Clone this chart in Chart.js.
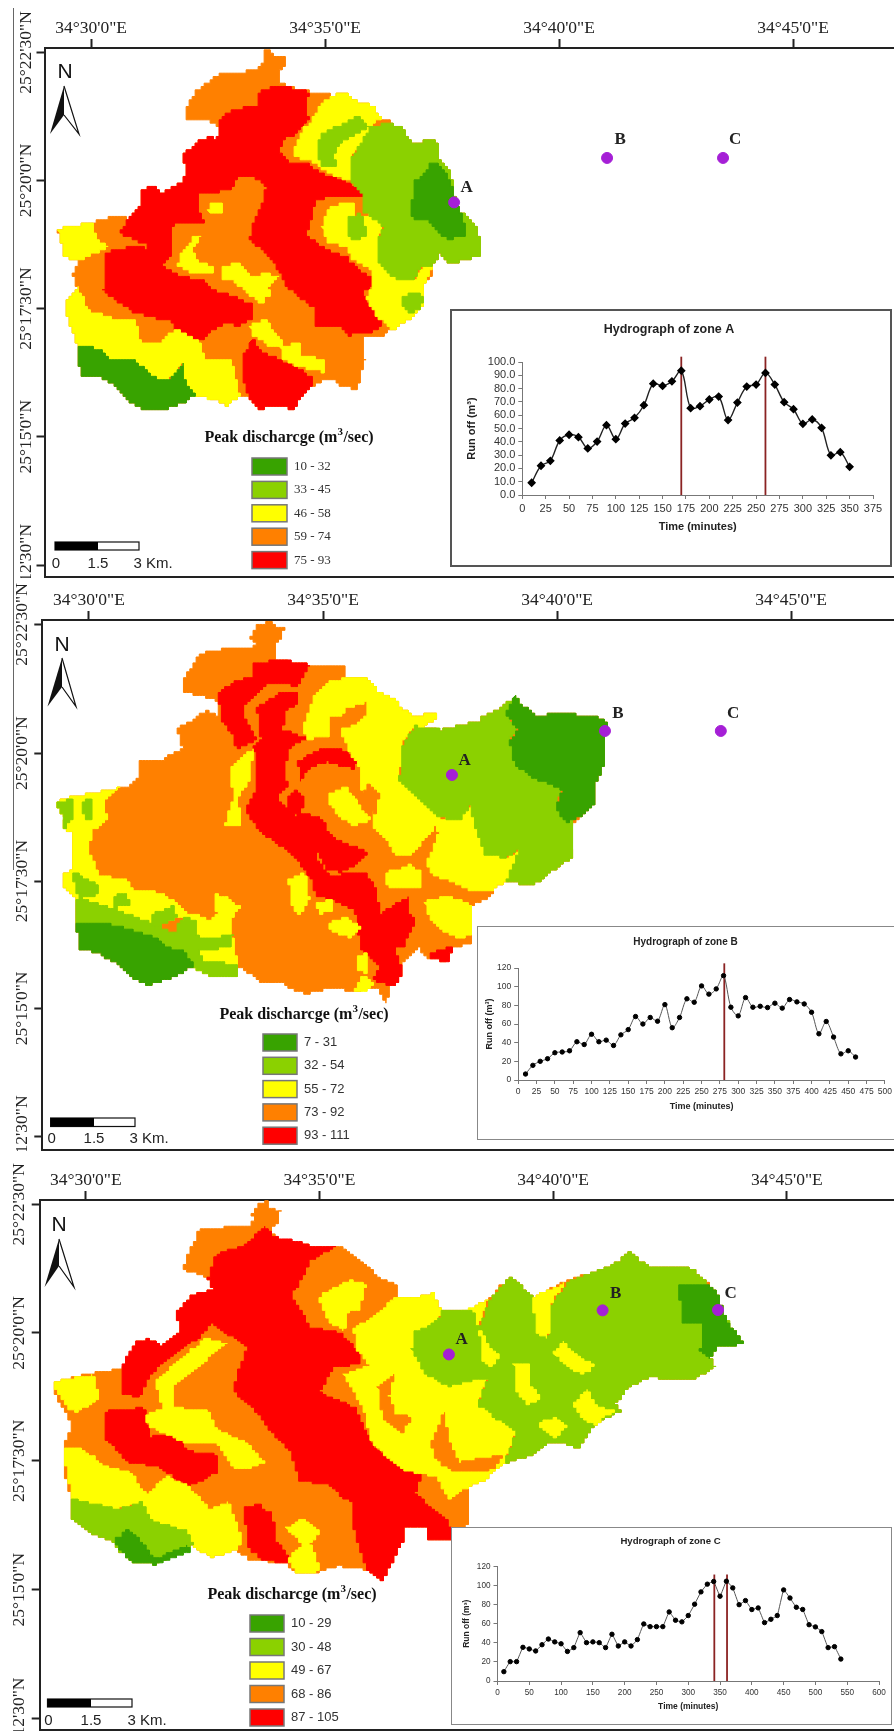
<!DOCTYPE html>
<html>
<head>
<meta charset="utf-8">
<title>Hydrographs</title>
<script src="https://cdn.jsdelivr.net/npm/chart.js@4/dist/chart.umd.min.js"></script>
<style>
html, body { margin: 0; padding: 0; background: #fff; }
#page { position: relative; width: 894px; height: 1731px; overflow: hidden; background: #fff; }
canvas { position: absolute; filter: blur(0.45px); }
.inset { position: absolute; background: #fff; box-sizing: border-box; }
.inset canvas { left: 0; top: 0; }
#sideline { position: absolute; left: 13px; top: 8px; width: 1px; height: 862px; background: #666; }
</style>
</head>
<body>
<div id="page">
  <canvas id="map1" width="894" height="578" style="left:0;top:0"></canvas>
  <canvas id="map2" width="894" height="569" style="left:0;top:582px"></canvas>
  <canvas id="map3" width="894" height="569" style="left:0;top:1162px"></canvas>
  <div id="sideline"></div>
  <div class="inset" style="left:450px;top:309px;width:442px;height:258px;border:2px solid #555"><canvas id="hydroA" width="438" height="254"></canvas></div>
  <div class="inset" style="left:477px;top:926px;width:430px;height:214px;border:1.5px solid #888"><canvas id="hydroB" width="417" height="211"></canvas></div>
  <div class="inset" style="left:451px;top:1527px;width:441px;height:198px;border:1.5px solid #888"><canvas id="hydroC" width="438" height="195"></canvas></div>
</div>
<script>
var DARK = '#38a300', LIGHT = '#8bd100', YEL = '#ffff00', ORA = '#ff8000', RED = '#ff0000';

// hydrographs
var minutesA = [10,20,30,40,50,60,70,80,90,100,110,120,130,140,150,160,170,180,190,200,210,220,230,240,250,260,270,280,290,300,310,320,330,340,350];
var runoffA = [9.2,22,25.7,41,45.3,43.5,35,40.2,52.5,42,53.7,58,67.5,83.7,82,85.5,93.5,65.3,66.8,71.8,74,56.3,69.5,81.5,83,91.8,83,69.8,64.5,53.5,56.8,50.5,29.8,32.2,21.2];
var peaksA = [170, 260];

var minutesB = [10,20,30,40,50,60,70,80,90,100,110,120,130,140,150,160,170,180,190,200,210,220,230,240,250,260,270,280,290,300,310,320,330,340,350,360,370,380,390,400,410,420,430,440,450,460];
var runoffB = [6.4,15.7,20,22.8,29.2,30,31.3,41,38,49,41,42.7,37,48.4,54,68,60,67,63,80.8,56,67,87,83.3,100.8,92,97.6,111.8,78,68.7,88.3,78,79,77.6,82.3,77,86.2,83.7,81.5,72.6,49.5,62.7,46,28,31.3,24.6];
var peaksB = [281];

var minutesC = [10,20,30,40,50,60,70,80,90,100,110,120,130,140,150,160,170,180,190,200,210,220,230,240,250,260,270,280,290,300,310,320,330,340,350,360,370,380,390,400,410,420,430,440,450,460,470,480,490,500,510,520,530,540];
var runoffC = [9.8,20.3,20.3,35.3,33.6,31.5,38,44,41,39,31,35,50.7,40.2,41,40.2,35,49,36.7,41,36.7,43.4,59.8,57,57,57,72.4,63.7,62,68.6,80.5,93.4,101.5,104.3,88.9,104.6,97.6,80,84.3,74.9,76.6,61.2,64.7,68.6,95.5,87,77.3,75,59,56.7,51.8,35,36,23];
var peaksC = [341, 361];

// map axes: grid positions of the graticule and their labels
var lonLabels = ['34°30\'0"E', '34°35\'0"E', '34°40\'0"E', '34°45\'0"E'];
var latLabels = ['25°22\'30"N', '25°20\'0"N', '25°17\'30"N', '25°15\'0"N', '25°12\'30"N'];
var lonGrid1 = [273, 975, 1677, 2379], latGrid1 = [142, 488, 834, 1180, 1527];
var lonGrid2 = [225, 817, 1409, 2001], latGrid2 = [120, 468, 814, 1158, 1505];
var lonGrid3 = [177, 659, 1141, 1623], latGrid3 = [122, 475, 826, 1180, 1534];

var classes1 = ['10 - 32', '33 - 45', '46 - 58', '59 - 74', '75 - 93'];
var classes2 = ['7 - 31', '32 - 54', '55 - 72', '73 - 92', '93 - 111'];
var classes3 = ['10 - 29', '30 - 48', '49 - 67', '68 - 86', '87 - 105'];

// zones of map 1, in map grid units, painted in this order
var basin1 = [795,135,810,135,815,150,855,150,858,180,838,190,838,225,900,245,1000,258,1040,248,1050,270,1105,285,1145,320,1175,335,1205,350,1235,390,1285,378,1315,385,1315,430,1350,470,1360,510,1365,550,1385,580,1415,600,1435,630,1437,695,1390,700,1360,715,1320,685,1300,720,1290,750,1265,780,1270,820,1250,850,1215,870,1190,890,1165,890,1150,910,1085,905,1085,965,1095,970,1070,1050,1025,1045,1010,1025,975,1030,935,1045,900,1080,885,1105,860,1100,800,1100,785,1105,750,1075,720,1075,680,1095,650,1080,610,1070,585,1070,550,1090,490,1110,430,1105,380,1080,355,1045,300,1015,250,1015,235,975,235,935,200,850,195,815,230,770,220,735,235,705,195,690,175,618,280,600,330,585,375,590,420,550,425,510,465,505,480,525,545,490,560,450,545,425,585,385,620,370,650,375,660,345,620,320,560,320,558,290,600,230,660,200,770,190,790,160];
var red1a = [770,250,830,230,900,245,925,250,915,300,925,325,880,370,850,375,835,410,860,440,920,445,960,470,1040,495,1090,520,1090,535,1000,530,945,540,930,600,920,640,960,670,1040,700,1070,730,1110,750,1120,770,1090,790,1100,820,1140,865,1145,880,1120,900,1050,905,1030,885,950,880,945,830,870,780,820,700,750,640,760,600,790,540,800,500,760,475,720,480,690,510,650,520,600,520,590,570,610,600,520,605,510,640,510,690,490,720,540,750,600,755,640,785,750,820,760,860,720,880,680,870,650,890,600,920,540,905,520,870,450,855,400,840,350,810,310,780,320,680,380,670,420,665,445,690,440,660,385,640,360,625,380,590,420,550,425,510,465,505,480,525,545,490,560,450,545,425,585,385,620,370,650,375,660,320,700,295,770,285];
var red1b = [755,920,780,950,830,970,880,990,930,1020,940,1040,900,1080,885,1105,860,1100,800,1100,785,1105,750,1075,730,1020,725,965];
var yel1a = [880,400,905,350,935,325,960,280,1000,258,1040,248,1050,270,1105,285,1145,320,1110,350,1100,385,1050,420,1050,490,1000,470,955,450,950,440,880,420];
var yel1b = [965,610,990,555,1060,550,1065,585,1105,580,1145,610,1130,660,1130,700,1190,750,1240,760,1265,720,1300,720,1265,780,1270,820,1250,850,1215,870,1190,890,1165,880,1140,860,1100,800,1120,770,1110,720,1060,700,1040,670,980,650];
var yel1c = [175,618,280,600,285,650,320,670,235,705,195,690];
var yel1d = [195,815,230,770,260,840,330,860,400,860,420,930,470,930,520,890,600,930,610,970,690,975,720,1075,680,1095,650,1080,585,1070,555,1040,545,980,520,1020,480,1025,440,1010,400,970,320,970,300,945,235,935,200,850];
var yel1e = [540,680,580,640,600,640,575,680,590,710,640,720,640,740,590,740,560,730,535,710];
var yel1f = [625,570,635,545,670,545,670,575,640,580];
var yel1g = [665,720,710,710,750,750,790,740,835,750,800,780,810,800,780,820,750,790,700,760,670,750];
var yel1h = [750,880,800,860,810,890,850,930,820,940,790,920,755,900];
var yel1i = [840,940,900,925,900,960,975,975,970,1005,900,990,850,965];
var lig1a = [1050,430,1110,340,1170,335,1205,350,1235,390,1285,378,1315,385,1315,430,1350,470,1360,510,1365,550,1385,580,1415,600,1435,630,1437,695,1390,700,1360,715,1320,685,1300,720,1265,720,1240,760,1190,750,1130,700,1130,660,1150,610,1105,580,1090,575,1090,520,1050,490];
var lig1b = [960,360,1020,340,1070,315,1105,345,1050,370,1020,390,1000,420,1010,450,960,445,955,400];
var lig1c = [1040,590,1080,575,1100,640,1060,650,1040,620];
var lig1d = [1205,800,1250,790,1270,800,1260,835,1230,845,1205,820];
var dar1a = [1290,440,1320,450,1350,490,1362,550,1385,580,1395,640,1350,645,1310,620,1280,590,1240,595,1232,565,1245,490];
var dar1b = [235,935,300,945,320,970,400,970,440,1010,480,1025,520,1020,545,980,555,1040,585,1070,550,1090,490,1110,430,1105,380,1080,355,1045,300,1015,250,1015,235,975];

// zones of map 2
var basin2 = [650,118,680,115,695,128,717,128,715,150,700,170,697,215,780,230,870,235,875,262,925,262,955,300,990,320,1040,370,1090,358,1105,375,1075,400,1115,405,1205,380,1255,350,1300,312,1320,340,1350,365,1440,362,1510,372,1533,395,1528,460,1530,500,1500,565,1500,610,1470,640,1440,670,1445,750,1410,780,1380,800,1350,825,1280,815,1250,840,1235,860,1195,880,1190,985,1150,990,1130,1030,1085,1020,1060,990,1030,1020,1015,1050,1010,1090,985,1100,978,1140,960,1105,880,1110,850,1100,780,1120,750,1110,720,1090,660,1085,620,1055,600,1040,600,1075,540,1075,490,1045,440,1075,380,1095,340,1080,300,1040,250,1005,205,1000,190,925,195,860,160,825,160,795,185,775,180,680,160,670,165,640,140,600,185,585,260,570,300,562,320,560,350,530,355,485,390,490,410,485,450,460,460,445,450,400,480,380,520,350,548,375,555,340,545,320,500,310,465,300,465,265,500,200,590,180,635,180,650,165,635,150];
var red2a = [640,225,700,215,780,230,755,285,680,280,615,345,620,385,650,435,600,455,585,405,557,370,555,300,590,275,640,260];
var red2b = [650,345,700,305,745,300,755,335,720,355,715,405,775,430,735,450,720,500,725,560,700,590,740,640,770,630,815,650,830,690,860,710,930,735,900,770,860,790,830,780,800,720,800,760,830,800,920,790,950,840,960,900,990,880,1030,855,1030,900,1050,930,1020,990,1000,990,1005,1030,1015,1050,1010,1090,985,1095,940,1075,960,1040,910,990,905,900,880,880,830,860,800,855,790,810,740,740,660,680,620,620,650,560,650,490,640,450,660,425];
var red2c = [755,490,800,460,860,455,905,490,895,510,830,490,780,510,760,540];
var red2d = [725,590,750,565,770,600,755,640,730,620];
var red2e = [1085,1010,1145,990,1135,1030,1090,1025];
var yel2a = [765,400,800,300,830,270,925,262,955,300,990,320,1040,370,1090,358,1105,375,1075,400,1040,400,1015,450,1010,540,1070,600,1105,620,1110,650,1190,610,1205,670,1230,740,1280,750,1315,725,1300,780,1280,815,1250,840,1200,840,1090,790,1080,760,1110,680,1105,665,1060,720,1040,740,1000,740,980,700,945,660,940,600,915,560,910,500,890,470,860,400,890,395,930,365,930,330,880,345,860,370,835,365,835,425,780,430];
var yel2b = [835,575,870,560,900,600,935,650,900,665,860,640,835,600];
var ora2a = [905,590,930,555,960,580,950,630];
var yel2c = [975,790,1035,770,1060,790,1060,835,1000,835,975,820];
var yel2d = [1075,870,1130,855,1195,880,1190,960,1165,970,1130,950,1090,915];
var yel2e = [730,810,770,790,780,860,760,900,740,880];
var yel2f = [800,870,840,865,840,895,815,900];
var yel2g = [830,925,870,910,910,945,890,965,840,950];
var yel2h = [585,500,640,455,630,545,600,590,610,660,570,665,580,620,590,590];
var yel2i = [900,1015,925,1010,930,1060,905,1050];
var yel2j = [895,1100,915,1070,945,1090,930,1110,900,1110];
var yel2k = [140,600,185,585,260,570,300,562,265,600,270,650,235,680,220,730,250,800,320,810,335,840,400,845,440,870,470,900,530,920,550,900,540,850,570,855,605,890,580,930,600,1040,600,1075,540,1075,490,1045,470,1000,460,910,385,930,290,890,200,900,195,860,160,825,160,795,185,775,180,680,160,670,165,640];
var lig2a = [1010,540,1020,440,1050,395,1115,405,1205,380,1255,350,1300,312,1320,340,1290,380,1310,400,1290,430,1295,480,1340,530,1420,565,1405,615,1445,650,1445,750,1410,780,1380,800,1350,825,1280,815,1315,725,1280,750,1230,740,1205,670,1190,610,1165,650,1110,640,1070,600];
var lig2b = [190,925,195,860,290,890,385,930,440,960,460,910,495,920,500,970,590,960,580,990,505,1005,510,1030,600,1040,600,1075,540,1075,490,1045,460,1000,430,1000,390,970,330,945,250,925];
var lig2c = [140,600,180,590,185,640,165,670,160,640];
var lig2d = [205,600,230,590,235,650,215,650];
var lig2e = [185,790,215,810,245,825,245,850,205,860,190,830];
var lig2f = [285,855,320,845,325,880,290,885];
var lig2g = [380,905,440,880,445,915,390,940];
var dar2a = [1300,315,1320,340,1350,365,1440,362,1510,372,1533,395,1528,460,1530,500,1500,565,1500,610,1470,640,1440,655,1405,620,1420,565,1340,530,1295,480,1290,430,1310,400,1280,360];
var dar2b = [190,925,250,925,330,945,390,970,430,1000,460,1000,490,1045,440,1075,380,1095,340,1080,300,1040,250,1005,205,1000];

// zones of map 3
var basin3 = [535,118,548,115,555,135,578,140,575,175,557,190,570,225,640,235,700,240,755,290,775,325,815,340,820,375,850,380,890,365,910,415,975,410,985,395,1005,385,1050,320,1100,375,1160,335,1205,315,1260,290,1295,250,1330,290,1420,298,1450,330,1480,370,1490,420,1510,465,1530,505,1480,515,1465,545,1475,570,1430,605,1400,605,1345,595,1300,620,1270,670,1280,690,1225,730,1195,790,1170,780,1130,780,1100,810,1040,835,1000,880,965,900,965,1000,930,1040,885,1045,880,1010,835,1005,830,1050,790,1155,760,1125,700,1115,650,1135,610,1135,595,1105,520,1100,490,1070,440,1090,400,1060,320,1110,270,1100,235,1050,185,1020,150,980,150,930,130,850,130,790,150,720,120,660,110,608,210,580,235,575,255,570,280,500,305,490,330,510,370,470,365,410,395,370,440,355,430,320,375,300,395,240,410,190,515,180,525,155,515,150];
var red3a = [510,230,545,180,560,210,640,235,690,240,640,280,600,380,640,460,700,475,740,530,740,560,690,570,660,640,730,680,750,740,770,790,830,850,870,860,855,920,900,970,925,990,930,1040,885,1045,880,1010,835,1005,830,1050,790,1155,760,1125,740,1060,730,1000,725,940,680,890,620,880,600,800,550,730,520,670,480,630,510,510,440,450,400,500,330,570,305,600,290,650,255,640,250,570,280,500,305,490,330,510,370,470,365,410,395,370,440,355,430,320,445,260];
var red3b = [220,690,295,680,310,760,370,750,385,800,450,810,450,860,390,895,360,870,330,840,270,830,220,760];
var red3c = [505,955,530,945,560,975,570,1050,600,1105,540,1100,510,1050];
var yel3a = [710,590,760,560,735,510,730,460,780,420,815,375,850,380,890,365,910,415,905,440,985,395,1005,385,985,470,1030,540,1005,600,985,670,1030,700,1065,740,1040,835,1000,880,965,900,930,930,900,870,870,860,830,850,770,780,750,680];
var ora3a = [780,620,815,585,800,650,815,700,850,705,830,750,790,710];
var ora3b = [890,780,915,690,925,780,945,830,1035,810,1020,850,940,855,900,820];
var yel3b = [655,375,720,330,755,345,740,410,715,420,710,470,680,440];
var yel3c = [110,608,190,590,205,660,160,690,140,680];
var yel3d = [130,790,165,790,210,840,270,860,300,920,340,870,380,890,430,960,470,940,500,1050,490,1070,440,1090,400,1060,385,1020,310,990,290,940,240,960,150,930];
var yel3e = [320,600,380,540,420,490,470,505,440,530,410,570,360,620,355,680,430,690,445,745,500,770,545,830,510,850,480,840,450,780,390,780,310,730,300,700,335,680];
var yel3f = [590,1010,620,985,660,1020,640,1060,660,1130,610,1135,595,1090,625,1050];
var lig3a = [150,930,240,960,290,940,310,990,385,1020,400,1060,320,1110,270,1100,235,1050,185,1020,150,980];
var lig3b = [850,520,855,470,905,440,910,410,975,410,985,470,1010,385,1050,320,1100,375,1105,470,1130,490,1135,400,1170,335,1205,315,1260,290,1295,250,1330,290,1420,298,1450,330,1490,420,1530,505,1480,515,1465,545,1475,570,1430,605,1400,605,1345,595,1300,620,1270,670,1280,690,1225,730,1195,790,1170,780,1130,780,1100,810,1040,835,1065,740,985,670,1005,600,990,600,930,620,880,590];
var yel3g = [1060,560,1090,560,1095,620,1115,660,1090,670,1065,630];
var yel3h = [1140,530,1160,500,1180,530,1225,565,1205,590,1170,560];
var yel3i = [1180,670,1210,630,1230,680,1265,690,1230,730,1200,700];
var yel3j = [1110,720,1140,710,1170,730,1150,765,1125,745];
var yel3k = [990,470,1010,520,1030,540,1015,570,995,545];
var yel3l = [1100,375,1165,335,1135,400,1130,490,1105,470];
var dar3a = [1400,345,1450,340,1480,370,1490,420,1510,465,1530,505,1480,515,1465,545,1445,520,1450,450,1410,445];
var dar3b = [235,1045,260,1015,290,1050,320,1095,385,1060,395,1075,320,1110,270,1100];

// stations: x, y in map grid units
var stationNames = ['A', 'B', 'C'];
var stations1 = [1362,547, 1821,427, 2169,427];
var stations2 = [1143,527, 1530,408, 1823,408];
var stations3 = [926,534, 1243,413, 1481,412];

var swatchColors = [DARK, LIGHT, YEL, ORA, RED];
var SERIF = '"Liberation Serif", serif', SANS = '"Liberation Sans", Arial, sans-serif';

function pairs(flat) {
    var out = [];
    for (var i = 0; i < flat.length; i += 2) out.push({x: flat[i], y: flat[i + 1]});
    return out;
}

// the zones are raster cells in the source map, so walk each traced edge in cell sized steps
function rasterEdges(pts, cell) {
    var out = [];
    function snap(v) { return Math.round(v / cell) * cell; }
    for (var i = 0; i < pts.length; i++) {
        var a = pts[i], b = pts[(i + 1) % pts.length];
        var n = Math.max(1, Math.ceil(Math.max(Math.abs(b.x - a.x), Math.abs(b.y - a.y)) / cell));
        for (var k = 0; k < n; k++) {
            var x = snap(a.x + (b.x - a.x) * k / n), y = snap(a.y + (b.y - a.y) * k / n);
            if (out.length) out.push({x: x, y: out[out.length - 1].y});
            out.push({x: x, y: y});
        }
    }
    out.push(out[0]);
    return out;
}

function zoneDataset(zone, order, cell) {
    return {
        data: rasterEdges(pairs(zone[1]), cell), showLine: true, fill: 'shape', order: order,
        backgroundColor: zone[0], borderColor: zone[0], borderWidth: 1,
        pointRadius: 0, pointHoverRadius: 0, tension: 0
    };
}

function mapExtras(p) {
    return {
        id: 'mapExtras',
        afterDatasetsDraw: function (chart) {
            var c = chart.ctx, a = chart.chartArea, sx = chart.scales.x, sy = chart.scales.y;
            c.save();

            // rest of the neat line
            c.strokeStyle = '#222';
            c.lineWidth = 2;
            c.beginPath();
            c.moveTo(a.left, a.bottom);
            c.lineTo(a.right, a.bottom);
            c.stroke();

            // station letters
            c.fillStyle = '#222';
            c.font = 'bold 17px ' + SERIF;
            c.textAlign = 'center';
            c.textBaseline = 'middle';
            p.stationLabels.forEach(function (l, i) {
                c.fillText(stationNames[i], sx.getPixelForValue(l[0]), sy.getPixelForValue(l[1]));
            });

            // north arrow
            var n = p.north;
            c.font = '21px ' + SANS;
            c.fillStyle = '#111';
            c.fillText('N', n.x, n.y);
            c.beginPath();
            c.moveTo(n.ax, n.ay); c.lineTo(n.lx, n.by); c.lineTo(n.ax, n.ny); c.closePath();
            c.fill();
            c.beginPath();
            c.moveTo(n.ax, n.ay); c.lineTo(n.rx, n.by); c.lineTo(n.ax, n.ny);
            c.lineWidth = 1.2;
            c.strokeStyle = '#111';
            c.stroke();

            // scale bar
            var b = p.bar;
            c.fillStyle = '#fff';
            c.strokeStyle = '#111';
            c.lineWidth = 1.2;
            c.fillRect(b.x0, b.y, b.x2 - b.x0, b.h);
            c.strokeRect(b.x0, b.y, b.x2 - b.x0, b.h);
            c.fillStyle = '#000';
            c.fillRect(b.x0, b.y, b.x1 - b.x0, b.h);
            c.font = '15px ' + SANS;
            c.fillStyle = '#222';
            c.fillText('0', b.x0 + 1, b.ty);
            c.fillText('1.5', b.x1, b.ty);
            c.fillText('3 Km.', b.x3, b.ty);

            // legend
            var g = p.legend;
            c.fillStyle = '#111';
            c.font = 'bold 16px ' + SERIF;
            var w1 = c.measureText('Peak discharcge (m').width;
            var w2 = c.measureText('/sec)').width;
            var tx = g.tx - (w1 + 6 + w2) / 2;
            c.textAlign = 'left';
            c.fillText('Peak discharcge (m', tx, g.ty);
            c.fillText('/sec)', tx + w1 + 6, g.ty);
            c.font = 'bold 11px ' + SERIF;
            c.fillText('3', tx + w1, g.ty - 6);
            swatchColors.forEach(function (col, i) {
                var y = g.y + i * g.step;
                c.fillStyle = col;
                c.fillRect(g.x, y, g.w, g.h);
                c.strokeStyle = '#777';
                c.lineWidth = 1.5;
                c.strokeRect(g.x, y, g.w, g.h);
                c.fillStyle = '#333';
                c.font = g.font;
                c.fillText(p.classes[i], g.x + g.w + 7, y + g.h / 2);
            });
            c.restore();
        }
    };
}

function drawMap(id, p) {
    var n = p.zones.length;
    var sets = p.zones.map(function (z, i) { return zoneDataset(z, n - i, p.cell); });
    sets.push({
        data: pairs(p.stations), order: 0, pointRadius: 5.5, pointStyle: 'circle',
        backgroundColor: '#a51fd6', borderColor: '#a51fd6', showLine: false
    });
    new Chart(document.getElementById(id), {
        type: 'scatter',
        data: {datasets: sets},
        plugins: [mapExtras(p)],
        options: {
            responsive: false,
            animation: false,
            events: [],
            layout: {autoPadding: false, padding: {left: 0, top: 0, right: 0, bottom: p.padBottom}},
            plugins: {legend: {display: false}, title: {display: false}, tooltip: {enabled: false}},
            scales: {
                x: {
                    type: 'linear', position: 'top', min: p.xMin, max: p.xMax,
                    afterBuildTicks: function (s) { s.ticks = p.lon.map(function (v) { return {value: v}; }); },
                    afterFit: function (s) { s.height = p.top; },
                    border: {color: '#222', width: 2},
                    grid: {drawOnChartArea: false, tickLength: 9, color: '#222', tickWidth: 2},
                    ticks: {
                        autoSkip: false, maxRotation: 0, padding: 0, color: '#222',
                        font: {family: SERIF, size: 17.5},
                        callback: function (v, i) { return lonLabels[i]; }
                    }
                },
                y: {
                    type: 'linear', reverse: true, min: p.yMin, max: p.yMax,
                    afterBuildTicks: function (s) { s.ticks = p.lat.map(function (v) { return {value: v}; }); },
                    afterFit: function (s) { s.width = p.left; },
                    border: {color: '#222', width: 2},
                    grid: {drawOnChartArea: false, tickLength: 8, color: '#222', tickWidth: 2},
                    ticks: {
                        autoSkip: false, minRotation: 90, maxRotation: 90, crossAlign: 'center',
                        padding: p.latPad, color: '#222', font: {family: SERIF, size: 17.5},
                        callback: function (v, i) { return latLabels[i]; }
                    }
                }
            }
        }
    });
}

function drawHydro(id, h) {
    var sets = [{
        data: h.minutes.map(function (m, i) { return {x: m, y: h.runoff[i]}; }),
        showLine: true, borderColor: h.lineColor, borderWidth: h.lineWidth, tension: h.tension,
        backgroundColor: '#000', pointBackgroundColor: '#000', pointBorderColor: '#000',
        pointRadius: h.pointRadius, pointStyle: h.pointStyle, order: 0
    }];
    h.peaks.forEach(function (t) {
        sets.push({
            data: [{x: t, y: 0}, {x: t, y: h.peakTop}], showLine: true, clip: false,
            borderColor: '#8b2323', borderWidth: 1.8, pointRadius: 0, order: 1
        });
    });
    new Chart(document.getElementById(id), {
        type: 'scatter',
        data: {datasets: sets},
        options: {
            responsive: false,
            animation: false,
            events: [],
            layout: {autoPadding: false, padding: {left: h.padLeft, top: 0, right: h.padRight, bottom: h.padBottom}},
            plugins: {
                legend: {display: false},
                tooltip: {enabled: false},
                title: {
                    display: true, text: h.title, color: '#222',
                    font: {family: SANS, size: h.titleSize, weight: 'bold'},
                    padding: {top: h.titleTop, bottom: h.titleBottom}
                }
            },
            scales: {
                x: {
                    type: 'linear', min: 0, max: h.xMax,
                    afterFit: function (s) { s.height = h.xHeight; },
                    border: {color: '#777'},
                    grid: {drawOnChartArea: false, tickLength: 4, color: '#777'},
                    ticks: {
                        stepSize: h.xStep, autoSkip: false, maxRotation: 0, padding: 3, color: '#333',
                        font: {family: SANS, size: h.tickSize}
                    },
                    title: {
                        display: true, text: 'Time (minutes)', color: '#222', padding: {top: h.xTitlePad, bottom: 0},
                        font: {family: SANS, size: h.axisSize, weight: 'bold'}
                    }
                },
                y: {
                    type: 'linear', min: 0, max: h.yMax,
                    afterFit: function (s) { s.width = h.yWidth; },
                    border: {color: '#777'},
                    grid: {drawOnChartArea: false, tickLength: 4, color: '#777'},
                    ticks: {
                        stepSize: h.yStep, autoSkip: false, padding: 3, color: '#333',
                        font: {family: SANS, size: h.tickSize},
                        callback: function (v) { return h.decimals ? v.toFixed(1) : String(v); }
                    },
                    title: {
                        display: true, text: 'Run off (m³)', color: '#222', padding: {top: 0, bottom: 3},
                        font: {family: SANS, size: h.axisSize, weight: 'bold'}
                    }
                }
            }
        }
    });
}

drawMap('map1', {
    xMin: 133, xMax: 2682, yMin: 130, yMax: 1559, left: 44.5, top: 48, padBottom: 1, latPad: -31, cell: 9,
    lon: lonGrid1, lat: latGrid1, classes: classes1, stations: stations1,
    stationLabels: [[1400, 508], [1860, 378], [2205, 378]],
    zones: [[ORA, basin1], [RED, red1a], [RED, red1b], [YEL, yel1a], [YEL, yel1b], [YEL, yel1c], [YEL, yel1d], [YEL, yel1e], [YEL, yel1f], [YEL, yel1g], [YEL, yel1h], [YEL, yel1i], [LIGHT, lig1a], [LIGHT, lig1b], [LIGHT, lig1c], [LIGHT, lig1d], [DARK, dar1a], [DARK, dar1b]],
    north: {x: 65, y: 72, ax: 64, ay: 86, lx: 50, rx: 79, by: 134, ny: 115},
    bar: {x0: 55, x1: 98, x2: 139, x3: 153, y: 542, h: 8, ty: 564},
    legend: {tx: 289, ty: 438, x: 252, y: 458, w: 35, h: 17, step: 23.4, font: '13px ' + SERIF}
});
drawMap('map2', {
    xMin: 107, xMax: 2261, yMin: 108, yMax: 1541, left: 42.3, top: 38, padBottom: 1, latPad: -29, cell: 8,
    lon: lonGrid2, lat: latGrid2, classes: classes2, stations: stations2,
    stationLabels: [[1175, 487], [1563, 362], [1854, 362]],
    zones: [[ORA, basin2], [RED, red2a], [RED, red2b], [RED, red2c], [RED, red2d], [RED, red2e], [YEL, yel2a], [YEL, yel2b], [ORA, ora2a], [YEL, yel2c], [YEL, yel2d], [YEL, yel2e], [YEL, yel2f], [YEL, yel2g], [YEL, yel2h], [YEL, yel2i], [YEL, yel2j], [YEL, yel2k], [LIGHT, lig2a], [LIGHT, lig2b], [LIGHT, lig2c], [LIGHT, lig2d], [LIGHT, lig2e], [LIGHT, lig2f], [LIGHT, lig2g], [DARK, dar2a], [DARK, dar2b]],
    north: {x: 62, y: 63, ax: 62, ay: 76, lx: 47.5, rx: 76, by: 124.5, ny: 105},
    bar: {x0: 50.6, x1: 94, x2: 135, x3: 149, y: 536, h: 8.5, ty: 557},
    legend: {tx: 304, ty: 433, x: 263, y: 452, w: 34, h: 17, step: 23.3, font: '13px ' + SANS}
});
drawMap('map3', {
    xMin: 82, xMax: 1844, yMin: 110, yMax: 1565, left: 39.7, top: 38, padBottom: 1, latPad: -29, cell: 7,
    lon: lonGrid3, lat: latGrid3, classes: classes3, stations: stations3,
    stationLabels: [[952, 492], [1270, 368], [1507, 368]],
    zones: [[ORA, basin3], [RED, red3a], [RED, red3b], [RED, red3c], [YEL, yel3a], [ORA, ora3a], [ORA, ora3b], [YEL, yel3b], [YEL, yel3c], [YEL, yel3d], [YEL, yel3e], [YEL, yel3f], [LIGHT, lig3a], [LIGHT, lig3b], [YEL, yel3g], [YEL, yel3h], [YEL, yel3i], [YEL, yel3j], [YEL, yel3k], [YEL, yel3l], [DARK, dar3a], [DARK, dar3b]],
    north: {x: 59, y: 63, ax: 59, ay: 77, lx: 44.6, rx: 74, by: 125, ny: 104},
    bar: {x0: 47.5, x1: 91, x2: 132, x3: 147, y: 537, h: 8, ty: 559},
    legend: {tx: 292, ty: 433, x: 250, y: 453, w: 34, h: 17, step: 23.5, font: '13px ' + SANS}
});

drawHydro('hydroA', {
    minutes: minutesA, runoff: runoffA, peaks: peaksA, peakTop: 104, title: 'Hydrograph of zone A',
    xMax: 375, xStep: 25, yMax: 100, yStep: 10, decimals: true, tension: 0.35,
    lineColor: '#222', lineWidth: 1.4, pointRadius: 3.4, pointStyle: 'rectRot',
    padLeft: 13, yWidth: 57.3, xHeight: 39, padBottom: 31, padRight: 17, titleTop: 11, titleBottom: 25,
    titleSize: 12.5, tickSize: 11, axisSize: 11, xTitlePad: 7
});
drawHydro('hydroB', {
    minutes: minutesB, runoff: runoffB, peaks: peaksB, peakTop: 125, title: 'Hydrograph of zone B',
    xMax: 500, xStep: 25, yMax: 120, yStep: 20, decimals: false, tension: 0.3,
    lineColor: '#555', lineWidth: 1, pointRadius: 2.2, pointStyle: 'circle',
    padLeft: 6, yWidth: 34.2, xHeight: 32, padBottom: 26, padRight: 8, titleTop: 9, titleBottom: 20,
    titleSize: 10, tickSize: 8.5, axisSize: 9, xTitlePad: 4
});
drawHydro('hydroC', {
    minutes: minutesC, runoff: runoffC, peaks: peaksC, peakTop: 111.6, title: 'Hydrograph of zone C',
    xMax: 600, xStep: 50, yMax: 120, yStep: 20, decimals: false, tension: 0.1,
    lineColor: '#555', lineWidth: 1, pointRadius: 2.2, pointStyle: 'circle',
    padLeft: 10, yWidth: 35.5, xHeight: 31, padBottom: 11, padRight: 11, titleTop: 8, titleBottom: 19,
    titleSize: 9.6, tickSize: 8.2, axisSize: 8.5, xTitlePad: 4
});
</script>
</body>
</html>
